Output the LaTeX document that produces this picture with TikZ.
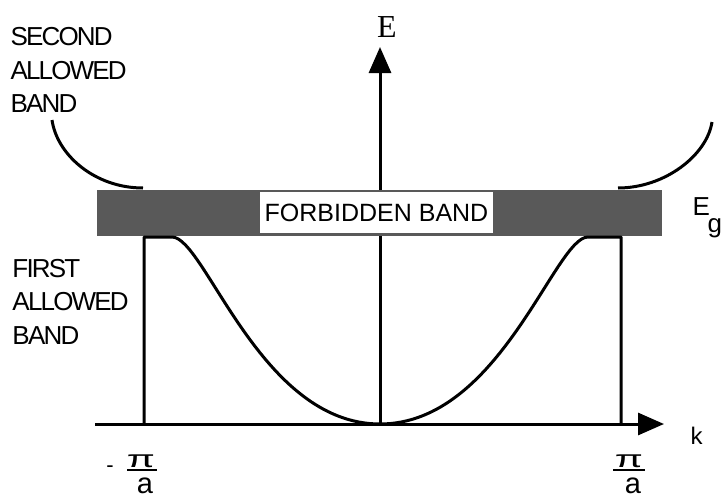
\documentclass[tikz,border=0pt]{standalone}
\usepackage{fontspec}
\usepackage{graphicx}
\setmainfont{Liberation Sans}
\newfontfamily\lblfont[LetterSpace=-7]{Liberation Sans}
\newfontfamily\serf{Liberation Serif}
\usetikzlibrary{arrows.meta}
\begin{document}
\begin{tikzpicture}[x=1pt,y=-1pt,line width=3pt,line join=round,
  lbl/.style={font=\lblfont\fontsize{26}{26}\selectfont,anchor=base west,inner sep=0pt},
  plain/.style={anchor=base,inner sep=0pt},
  axisarrow/.style={-{Triangle[length=26pt,width=22pt]}}]
\useasboundingbox (0,0) rectangle (726,498);
% coordinates
\coordinate (xl) at (95,424);
\coordinate (xr) at (664,424);
\coordinate (o) at (380,424);
\coordinate (yt) at (380,47);
\coordinate (lb) at (144,424);
\coordinate (lt) at (144,237);
\coordinate (rb) at (621,424);
\coordinate (rt) at (621,237);
\coordinate (lp) at (172,237);
\coordinate (rp) at (588,237);
\coordinate (ul1) at (52,120);
\coordinate (ul2) at (143,188);
\coordinate (ur1) at (712,122);
\coordinate (ur2) at (618,188);
% axes
\draw[axisarrow] (xl) -- (xr);
\draw[axisarrow] (o) -- (yt);
% band
\fill[black!65] (97,190) rectangle (662,236);
\node[fill=white,minimum width=233pt,minimum height=41pt,inner sep=0pt,
  font=\fontsize{25}{25}\selectfont] (fb) at (376.5,212.5) {FORBIDDEN BAND};
% first band curve
\draw (lb) -- (lt) -- (lp) .. controls (205,237) and (260,424) .. (o)
  .. controls (500,424) and (555,237) .. (rp) -- (rt) -- (rb);
% second band curves
\draw (ul1) .. controls (57,155) and (95,188) .. (ul2);
\draw (ur1) .. controls (707,155) and (665,188) .. (ur2);
% labels
\node[lbl] (s1) at (9,45) {SECOND};
\node[lbl] (s2) at (9,79) {ALLOWED};
\node[lbl] (s3) at (9,112) {BAND};
\node[lbl] (f1) at (11,277) {FIRST};
\node[lbl] (f2) at (11,310) {ALLOWED};
\node[lbl] (f3) at (11,344) {BAND};
\node[plain,font=\serf\fontsize{32}{32}\selectfont] (E) at (387,37) {E};
\node[anchor=base west,inner sep=0pt,font=\fontsize{26}{26}\selectfont] (Eg) at (691,215) {E};
\node[anchor=base west,inner sep=0pt,font=\fontsize{26}{26}\selectfont] (g) at (706,232) {g};
\node[anchor=base west,inner sep=0pt,font=\fontsize{24}{24}\selectfont] (k) at (689,444) {k};
% -pi/a
\node[plain,font=\fontsize{22}{22}\selectfont] (m) at (110,472) {-};
\node[plain,font=\fontsize{24}{24}\selectfont] (pl) at (141,467) {\scalebox{1.7}[1]{π}};
\coordinate (bl1) at (127,470);
\coordinate (bl2) at (157,470);
\draw[line width=2.5pt] (bl1) -- (bl2);
\node[plain,font=\fontsize{29}{29}\selectfont] (al) at (145,493) {a};
% pi/a
\node[plain,font=\fontsize{24}{24}\selectfont] (pr) at (629,467) {\scalebox{1.7}[1]{π}};
\coordinate (br1) at (613,470);
\coordinate (br2) at (645,470);
\draw[line width=2.5pt] (br1) -- (br2);
\node[plain,font=\fontsize{29}{29}\selectfont] (ar) at (633,493) {a};
\end{tikzpicture}
\end{document}
